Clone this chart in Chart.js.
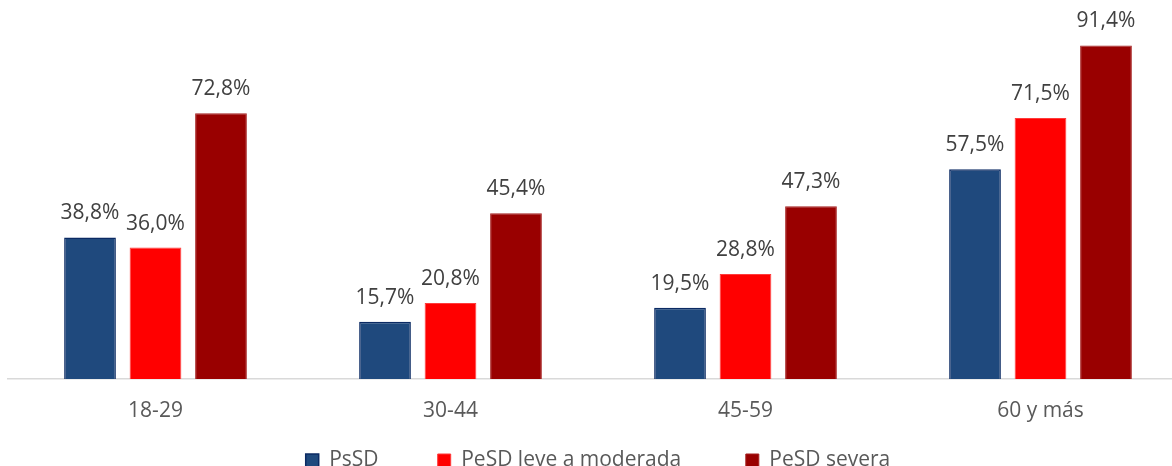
<!DOCTYPE html>
<html>
<head>
<meta charset="utf-8">
<script src="https://cdn.jsdelivr.net/npm/chart.js@4.4.1/dist/chart.umd.min.js"></script>
<style>
  html, body { margin: 0; padding: 0; overflow: hidden; background: #fff; }
  #wrap { width: 1190px; height: 466px; position: relative; }
</style>
</head>
<body>
<div id="wrap"><canvas id="c"></canvas></div>
<script>
const categories = ["18-29", "30-44", "45-59", "60 y más"];
const seriesNames = ["PsSD", "PeSD leve a moderada", "PeSD severa"];
const psSD = [38.8, 15.7, 19.5, 57.5];
const pesdLeve = [36.0, 20.8, 28.8, 71.5];
const pesdSevera = [72.8, 45.4, 47.3, 91.4];

const FONT = "'Open Sans', 'DejaVu Sans', sans-serif";

const valueLabels = {
  id: 'valueLabels',
  afterDatasetsDraw(chart) {
    const ctx = chart.ctx;
    ctx.save();
    ctx.font = "21px " + FONT;
    ctx.fillStyle = '#404040';
    ctx.textAlign = 'center';
    ctx.textBaseline = 'middle';
    chart.data.datasets.forEach((ds, i) => {
      const meta = chart.getDatasetMeta(i);
      meta.data.forEach((bar, j) => {
        const v = ds.data[j];
        ctx.fillText(v.toFixed(1).replace('.', ',') + '%', bar.x, bar.y - 24);
      });
    });
    ctx.restore();
  }
};

const legendExtra = [9, 10, 0];

new Chart(document.getElementById('c'), {
  type: 'bar',
  data: {
    labels: categories,
    datasets: [
      { label: seriesNames[0], data: psSD, backgroundColor: '#1F497D', borderColor: '#0B2A63', borderWidth: 1.5 },
      { label: seriesNames[1], data: pesdLeve, backgroundColor: '#FF0000', borderColor: '#FF3B3B', borderWidth: 1 },
      { label: seriesNames[2], data: pesdSevera, backgroundColor: '#990000', borderColor: '#A52020', borderWidth: 1 }
    ]
  },
  options: {
    responsive: true,
    maintainAspectRatio: false,
    animation: false,
    devicePixelRatio: 1,
    categoryPercentage: 0.666,
    barPercentage: 0.79,
    layout: { padding: { left: 8, right: 2, top: 14, bottom: -15 } },
    scales: {
      x: {
        afterFit(scale) { scale.height = 61; },
        grid: { display: false, drawTicks: false },
        border: { display: true, color: '#D9D9D9', width: 1.5 },
        ticks: { color: '#595959', font: { family: FONT, size: 21, lineHeight: 1 }, padding: 22 }
      },
      y: { display: false, min: 0, max: 100 }
    },
    plugins: {
      tooltip: { enabled: false },
      legend: {
        position: 'bottom',
        labels: {
          color: '#595959',
          font: { family: FONT, size: 21 },
          boxWidth: 13,
          boxHeight: 13,
          padding: 10,
          generateLabels(chart) {
            const items = Chart.defaults.plugins.legend.labels.generateLabels(chart);
            items.forEach((it, i) => { it.text = it.text + '\u00A0'.repeat(legendExtra[i]); });
            return items;
          }
        }
      }
    }
  },
  plugins: [valueLabels]
});
</script>
</body>
</html>
